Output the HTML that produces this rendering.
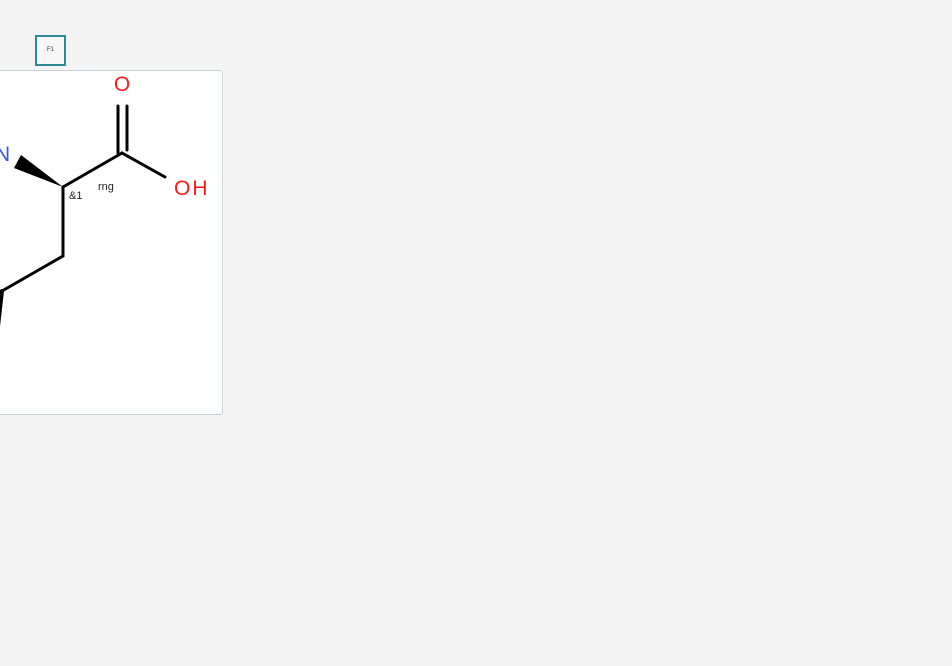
<!DOCTYPE html>
<html><head><style>
html,body{margin:0;padding:0;background:#f4f4f4;width:952px;height:666px;overflow:hidden;font-family:"Liberation Sans",sans-serif;}
.btn{position:absolute;left:35px;top:35px;width:31px;height:31px;border:2px solid #2a8a96;background:#f7f7f7;box-sizing:border-box;}
.btn span{position:absolute;left:10px;top:10px;font-size:6px;color:#333;}
.panel{position:absolute;left:-10px;top:70px;width:233px;height:345px;background:#fff;border:1px solid #c9d3dd;border-radius:3px;box-sizing:border-box;}
svg{position:absolute;left:0;top:0;}
</style></head><body>
<div class="btn"><span>F1</span></div>
<div class="panel"></div>
<svg width="952" height="666">
<g stroke="#000" stroke-width="3" fill="none" stroke-linecap="round">
<line x1="63" y1="187" x2="122" y2="153"/>
<line x1="118" y1="106" x2="118" y2="153"/>
<line x1="127" y1="106" x2="127" y2="150"/>
<line x1="122" y1="153" x2="165" y2="177"/>
<line x1="63" y1="187" x2="63" y2="256"/>
<line x1="63" y1="256" x2="2" y2="291"/>
<line x1="2" y1="291" x2="-3" y2="335" stroke-width="4"/>
</g>
<polygon points="63,187 14,168 21,155" fill="#000"/>
<g font-family="Liberation Sans, sans-serif">
<text x="122" y="91" font-size="21" fill="#ff1a1a" text-anchor="middle">O</text>
<text x="174" y="195" font-size="21" fill="#ff1a1a" letter-spacing="2">OH</text>
<text x="-5" y="161" font-size="21" fill="#3b5bdb">N</text>
<text x="69" y="199" font-size="11" fill="#222">&amp;1</text>
<text x="98" y="190" font-size="11" fill="#222">rng</text>
</g>
</svg>
</body></html>
